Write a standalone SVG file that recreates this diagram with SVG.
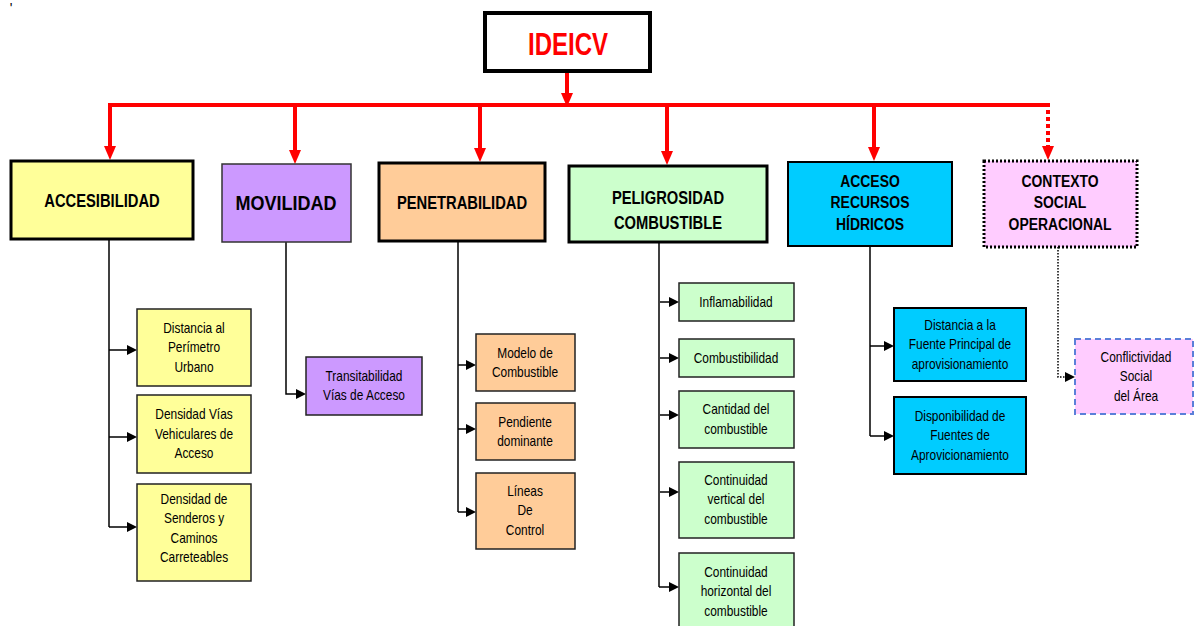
<svg xmlns="http://www.w3.org/2000/svg" width="1195" height="626" viewBox="0 0 1195 626">
<defs>
<marker id="ra" viewBox="0 0 14 12" refX="6" refY="6" markerWidth="14" markerHeight="12" markerUnits="userSpaceOnUse" orient="auto"><path d="M0,0 L14,6 L0,12 z" fill="#FF0000"/></marker>
<marker id="ba" viewBox="0 0 10 10" refX="4" refY="5" markerWidth="10" markerHeight="10" markerUnits="userSpaceOnUse" orient="auto"><path d="M0,0 L10,5 L0,10 z" fill="#000"/></marker>
</defs>
<style>
text{font-family:"Liberation Sans",Arial,sans-serif;text-anchor:middle;fill:#000;transform-box:fill-box;transform-origin:center;transform:scaleX(0.85)}
.h{font-weight:bold;font-size:18px;transform:scaleX(0.82)}
.s{font-size:14px}
.red{stroke:#FF0000;stroke-width:4;fill:none}
.blk{stroke:#000;stroke-width:1.5;fill:none}
.sub{stroke:#222;stroke-width:1.5}
.y{fill:#FFFF99}.p{fill:#CC99FF}.o{fill:#FFCC99}.g{fill:#CCFFCC}.c{fill:#00CCFF}.k{fill:#FFCCFF}
</style>
<rect width="1195" height="626" fill="#fff"/>
<text x="11" y="13" style="font-size:14px;transform:none">'</text>

<g id="connectors">
<line class="red" x1="567" y1="71" x2="567" y2="99" marker-end="url(#ra)"/>
<line class="red" x1="108" y1="105" x2="1050" y2="105"/>
<line class="red" x1="110" y1="103" x2="110" y2="152" marker-end="url(#ra)"/>
<line class="red" x1="295" y1="105" x2="295" y2="156" marker-end="url(#ra)"/>
<line class="red" x1="480" y1="105" x2="480" y2="154" marker-end="url(#ra)"/>
<line class="red" x1="667" y1="105" x2="667" y2="157" marker-end="url(#ra)"/>
<line class="red" x1="874" y1="105" x2="874" y2="153" marker-end="url(#ra)"/>
<line class="red" x1="1048" y1="103" x2="1048" y2="152" stroke-dasharray="4 3" marker-end="url(#ra)"/>

<line class="blk" x1="109" y1="239" x2="109" y2="527"/>
<line class="blk" x1="109" y1="350" x2="131" y2="350" marker-end="url(#ba)"/>
<line class="blk" x1="109" y1="437" x2="131" y2="437" marker-end="url(#ba)"/>
<line class="blk" x1="109" y1="527" x2="131" y2="527" marker-end="url(#ba)"/>

<polyline class="blk" points="286,242 286,394 300,394" marker-end="url(#ba)"/>

<line class="blk" x1="458" y1="241" x2="458" y2="512"/>
<line class="blk" x1="458" y1="365" x2="470" y2="365" marker-end="url(#ba)"/>
<line class="blk" x1="458" y1="429" x2="470" y2="429" marker-end="url(#ba)"/>
<line class="blk" x1="458" y1="512" x2="470" y2="512" marker-end="url(#ba)"/>

<line class="blk" x1="659" y1="242" x2="659" y2="587"/>
<line class="blk" x1="660" y1="302" x2="673" y2="302" marker-end="url(#ba)"/>
<line class="blk" x1="660" y1="358" x2="673" y2="358" marker-end="url(#ba)"/>
<line class="blk" x1="660" y1="415" x2="673" y2="415" marker-end="url(#ba)"/>
<line class="blk" x1="660" y1="492" x2="673" y2="492" marker-end="url(#ba)"/>
<line class="blk" x1="659" y1="587" x2="673" y2="587" marker-end="url(#ba)"/>

<line class="blk" x1="870" y1="246" x2="870" y2="436"/>
<line class="blk" x1="870" y1="346" x2="888" y2="346" marker-end="url(#ba)"/>
<line class="blk" x1="870" y1="436" x2="888" y2="436" marker-end="url(#ba)"/>

<polyline class="blk" points="1058,247 1058,377 1069,377" stroke-dasharray="1.5 1.5" marker-end="url(#ba)"/>
</g>

<g id="root"><rect x="485" y="13" width="165" height="58" fill="#fff" stroke="#000" stroke-width="4"/><text x="568" y="55" style="font-size:32px;font-weight:bold;fill:#FF0000;transform:scaleX(0.75)">IDEICV</text></g>

<g id="accesibilidad"><rect class="y" x="11" y="161" width="182" height="78" stroke="#000" stroke-width="3"/><text class="h" x="102" y="207">ACCESIBILIDAD</text></g>
<g id="movilidad"><rect class="p" x="222" y="164" width="129" height="78" stroke="#333" stroke-width="1.5"/><text class="h" x="286" y="210" style="font-size:20px;transform:scaleX(0.9)">MOVILIDAD</text></g>
<g id="penetrabilidad"><rect class="o" x="379" y="163" width="166" height="78" stroke="#000" stroke-width="3"/><text class="h" x="462" y="209">PENETRABILIDAD</text></g>
<g id="peligrosidad"><rect class="g" x="569" y="166" width="198" height="76" stroke="#000" stroke-width="3"/><text class="h" x="668" y="204">PELIGROSIDAD</text><text class="h" x="668" y="229">COMBUSTIBLE</text></g>
<g id="acceso"><rect class="c" x="788" y="162" width="164" height="84" stroke="#000" stroke-width="2"/><text class="h" x="870" y="187" style="font-size:17px">ACCESO</text><text class="h" x="870" y="208" style="font-size:17px">RECURSOS</text><text class="h" x="870" y="230" style="font-size:17px">HÍDRICOS</text></g>
<g id="contexto"><rect class="k" x="984" y="161" width="153" height="86" stroke="#000" stroke-width="3" stroke-dasharray="2 2"/><text class="h" x="1060" y="187" style="font-size:17px">CONTEXTO</text><text class="h" x="1060" y="208" style="font-size:17px">SOCIAL</text><text class="h" x="1060" y="230" style="font-size:17px">OPERACIONAL</text></g>

<g id="distancia-perimetro"><rect class="y sub" x="137" y="309" width="114" height="77"/><text class="s" x="194" y="333">Distancia al</text><text class="s" x="194" y="352.5">Perímetro</text><text class="s" x="194" y="372">Urbano</text></g>
<g id="densidad-vias"><rect class="y sub" x="137" y="395" width="114" height="78"/><text class="s" x="194" y="419.5">Densidad Vías</text><text class="s" x="194" y="439">Vehiculares de</text><text class="s" x="194" y="458.5">Acceso</text></g>
<g id="densidad-senderos"><rect class="y sub" x="137" y="484" width="114" height="97"/><text class="s" x="194" y="504">Densidad de</text><text class="s" x="194" y="523.5">Senderos y</text><text class="s" x="194" y="543">Caminos</text><text class="s" x="194" y="562.5">Carreteables</text></g>

<g id="transitabilidad"><rect class="p sub" x="306" y="357" width="116" height="58"/><text class="s" x="364" y="381">Transitabilidad</text><text class="s" x="364" y="400.5">Vías de Acceso</text></g>

<g id="modelo"><rect class="o sub" x="476" y="334" width="99" height="57"/><text class="s" x="525" y="358">Modelo de</text><text class="s" x="525" y="377.5">Combustible</text></g>
<g id="pendiente"><rect class="o sub" x="476" y="403" width="99" height="57"/><text class="s" x="525" y="427">Pendiente</text><text class="s" x="525" y="446.5">dominante</text></g>
<g id="lineas"><rect class="o sub" x="476" y="473" width="99" height="76"/><text class="s" x="525" y="496">Líneas</text><text class="s" x="525" y="515.5">De</text><text class="s" x="525" y="535">Control</text></g>

<g id="inflamabilidad"><rect class="g sub" x="679" y="283" width="115" height="38"/><text class="s" x="736" y="307">Inflamabilidad</text></g>
<g id="combustibilidad"><rect class="g sub" x="679" y="339" width="115" height="38"/><text class="s" x="736" y="363">Combustibilidad</text></g>
<g id="cantidad"><rect class="g sub" x="679" y="391" width="115" height="57"/><text class="s" x="736" y="414.5">Cantidad del</text><text class="s" x="736" y="434">combustible</text></g>
<g id="continuidad-vertical"><rect class="g sub" x="679" y="462" width="115" height="76"/><text class="s" x="736" y="485">Continuidad</text><text class="s" x="736" y="504.5">vertical del</text><text class="s" x="736" y="524">combustible</text></g>
<g id="continuidad-horizontal"><rect class="g sub" x="679" y="553" width="115" height="90"/><text class="s" x="736" y="577">Continuidad</text><text class="s" x="736" y="596.5">horizontal del</text><text class="s" x="736" y="616">combustible</text></g>

<g id="distancia-fuente"><rect class="c" x="894" y="308" width="132" height="73" stroke="#000" stroke-width="2"/><text class="s" x="960" y="330">Distancia a la</text><text class="s" x="960" y="349.5">Fuente Principal de</text><text class="s" x="960" y="369">aprovisionamiento</text></g>
<g id="disponibilidad"><rect class="c" x="894" y="397" width="132" height="77" stroke="#000" stroke-width="2"/><text class="s" x="960" y="421">Disponibilidad de</text><text class="s" x="960" y="440.5">Fuentes de</text><text class="s" x="960" y="460">Aprovicionamiento</text></g>

<g id="conflictividad"><rect class="k" x="1075" y="339" width="118" height="75" stroke="#5B7FD9" stroke-width="2" stroke-dasharray="6 4"/><text class="s" x="1136" y="362">Conflictividad</text><text class="s" x="1136" y="381.5">Social</text><text class="s" x="1136" y="401">del Área</text></g>
</svg>
